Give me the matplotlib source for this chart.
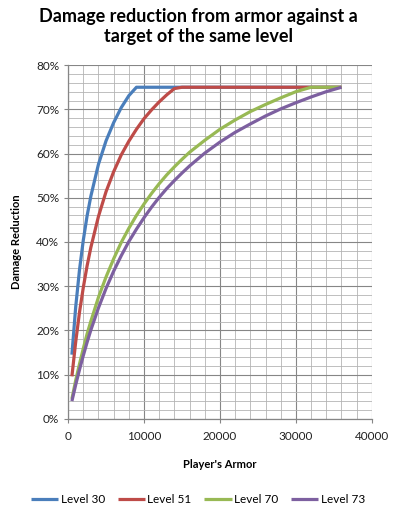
import matplotlib.pyplot as plt
from matplotlib.ticker import MultipleLocator, FuncFormatter

# armadura del jugador (eje x) y reducción de daño en % para cada nivel
armadura = [500, 1000, 1500, 2000, 2500, 3000, 4000, 5000, 6000, 7000,
            8000, 9000, 10000, 11000, 12000, 13000, 14000, 15000, 16000,
            18000, 20000, 22000, 24000, 26000, 28000, 30000, 32000, 34000,
            36000]

nivel_30 = [14.5, 25.3, 33.7, 40.4, 45.9, 50.4, 57.6, 62.9, 67.0, 70.4,
            73.1, 75.0, 75.0, 75.0, 75.0, 75.0, 75.0, 75.0, 75.0,
            75.0, 75.0, 75.0, 75.0, 75.0, 75.0, 75.0, 75.0, 75.0, 75.0]
nivel_51 = [9.6, 17.4, 24.1, 29.7, 34.6, 38.8, 45.8, 51.4, 55.9, 59.7,
            62.8, 65.5, 67.9, 69.9, 71.7, 73.3, 74.7, 75.0, 75.0,
            75.0, 75.0, 75.0, 75.0, 75.0, 75.0, 75.0, 75.0, 75.0, 75.0]
nivel_70 = [4.5, 8.7, 12.4, 15.9, 19.2, 22.1, 27.5, 32.1, 36.2, 39.9,
            43.1, 46.0, 48.6, 51.0, 53.2, 55.2, 57.0, 58.7, 60.3,
            63.0, 65.5, 67.6, 69.5, 71.1, 72.6, 74.0, 75.0, 75.0, 75.0]
nivel_73 = [4.0, 7.7, 11.1, 14.3, 17.3, 20.1, 25.1, 29.5, 33.4, 36.9,
            40.1, 42.9, 45.5, 47.9, 50.1, 52.1, 53.9, 55.6, 57.2,
            60.1, 62.6, 64.8, 66.7, 68.5, 70.1, 71.5, 72.8, 74.0, 75.0]

series = [
    ("Level 30", nivel_30, "#4A7EBB"),
    ("Level 51", nivel_51, "#BE4B48"),
    ("Level 70", nivel_70, "#98B954"),
    ("Level 73", nivel_73, "#7D60A0"),
]

plt.rcParams["font.family"] = ["Lato", "DejaVu Sans"]

fig = plt.figure(figsize=(3.96, 5.17), dpi=100)
ax = fig.add_axes([0.172, 0.19, 0.767, 0.684])

for nombre, valores, color in series:
    ax.plot(armadura, valores, color=color, linewidth=2.3, label=nombre,
            solid_capstyle="butt")

ax.set_xlim(0, 40000)
ax.set_ylim(0, 80)
ax.xaxis.set_major_locator(MultipleLocator(10000))
ax.xaxis.set_minor_locator(MultipleLocator(2000))
ax.yaxis.set_major_locator(MultipleLocator(10))
ax.yaxis.set_minor_locator(MultipleLocator(2))
ax.yaxis.set_major_formatter(FuncFormatter(lambda v, p: f"{v:.0f}%"))

ax.grid(True, which="major", color="#868686", linewidth=0.8)
ax.grid(True, which="minor", color="#b4b4b4", linewidth=0.6)
ax.set_axisbelow(True)

for lado in ["top", "right"]:
    ax.spines[lado].set_visible(False)
for lado in ["left", "bottom"]:
    ax.spines[lado].set_color("#868686")
    ax.spines[lado].set_linewidth(0.9)

ax.tick_params(which="major", length=3, color="#868686", labelsize=8.5,
               labelcolor="#222222")
ax.tick_params(which="minor", length=0)
ax.tick_params(axis="x", pad=6)

ax.set_xlabel("Player's Armor", fontsize=8, fontweight="bold", labelpad=12)
ax.set_ylabel("Damage Reduction", fontsize=8, fontweight="bold", labelpad=10)

fig.suptitle("Damage reduction from armor against a\ntarget of the same level",
             fontsize=13, fontweight="bold", y=0.985, linespacing=1.25)

fig.legend(loc="center", bbox_to_anchor=(0.5, 0.033), ncol=4, frameon=False,
           fontsize=8.5, handlelength=2.3, handletextpad=0.2,
           columnspacing=1.1)

fig.savefig("out.png", dpi=100)
plt.close(fig)
